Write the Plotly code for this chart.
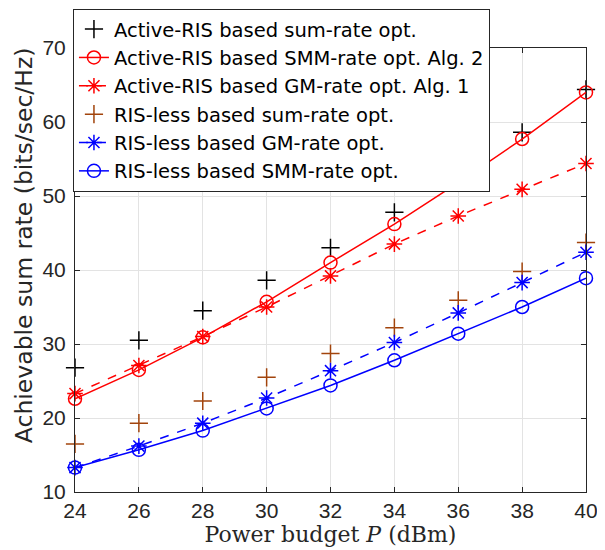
import plotly.graph_objects as go

power_dbm = [24, 26, 28, 30, 32, 34, 36, 38, 40]

active_sum_rate = [26.8, 30.5, 34.5, 38.6, 43.0, 47.8, 53.2, 58.6, 64.4]
active_smm_alg2 = [22.6, 26.5, 30.9, 35.7, 41.0, 46.2, 51.8, 57.7, 64.0]
active_gm_alg1 = [23.3, 27.1, 31.0, 35.0, 39.2, 43.5, 47.3, 50.9, 54.4]
risless_sum_rate = [16.5, 19.3, 22.3, 25.5, 28.7, 32.2, 35.9, 39.8, 43.7]
risless_gm = [13.3, 16.2, 19.3, 22.7, 26.4, 30.2, 34.2, 38.3, 42.4]
risless_smm = [13.3, 15.7, 18.3, 21.3, 24.4, 27.8, 31.4, 35.0, 38.9]

x_ticks = [24, 26, 28, 30, 32, 34, 36, 38, 40]
y_ticks = [10, 20, 30, 40, 50, 60, 70]

RED = "#ff0000"
BLUE = "#0000ff"
BROWN = "#a2440c"

fig = go.Figure()

def add(name, y, color, symbol, dash=None, mode="lines+markers", size=13):
    fig.add_trace(go.Scatter(
        x=power_dbm, y=y, name=name, mode=mode,
        line=dict(color=color, width=1.5, dash=dash if dash else "solid"),
        marker=dict(symbol=symbol, size=size, color=color,
                    line=dict(color=color, width=1.5)),
        cliponaxis=False,
    ))

add("Active-RIS based sum-rate opt.", active_sum_rate, "#000000", "cross-thin", mode="markers", size=13)
add("Active-RIS based SMM-rate opt. Alg. 2", active_smm_alg2, RED, "circle-open")
add("Active-RIS based GM-rate opt. Alg. 1", active_gm_alg1, RED, "asterisk-open", dash="dash")
add("RIS-less based sum-rate opt.", risless_sum_rate, BROWN, "cross-thin", mode="markers", size=13)
add("RIS-less based GM-rate opt.", risless_gm, BLUE, "asterisk-open", dash="dash")
add("RIS-less based SMM-rate opt.", risless_smm, BLUE, "circle-open")

axis_common = dict(
    showline=True, linecolor="#262626", linewidth=1, mirror="allticks",
    ticks="inside", ticklen=5, tickcolor="#262626",
    showgrid=True, gridcolor="#e3e3e3", gridwidth=1,
    zeroline=False, automargin=False,
    tickfont=dict(family="Liberation Sans, Arial", size=21, color="#262626"),
)

# The page places the figure 8px in from the top-left corner, so the figure is
# sized to fill the rest of the 605x550 window.
fig.update_layout(
    width=597, height=542,
    margin=dict(l=67, r=19, t=40, b=58, autoexpand=False),
    paper_bgcolor="white", plot_bgcolor="white",
    xaxis=dict(range=[24, 40], tickvals=x_ticks, **axis_common,
               title=dict(text="Power budget <i>P</i> (dBm)",
                          font=dict(family="DejaVu Serif", size=22, color="#262626"),
                          standoff=0)),
    yaxis=dict(range=[10, 70], tickvals=y_ticks, ticklabelstandoff=4, **axis_common),
    legend=dict(
        x=-0.004, y=1.088, xanchor="left", yanchor="top",
        bgcolor="white", bordercolor="#262626", borderwidth=1,
        font=dict(family="DejaVu Sans", size=19.5, color="#000000"),
        itemwidth=30, tracegroupgap=0,
    ),
    showlegend=True,
    annotations=[dict(
        text="Achievable sum rate (bits/sec/Hz)",
        xref="paper", yref="paper", x=0, y=0.556, xshift=-51,
        xanchor="center", yanchor="middle", textangle=-90, showarrow=False,
        font=dict(family="DejaVu Sans", size=23.5, color="#262626"),
    )],
)

fig.write_html("out.html")
